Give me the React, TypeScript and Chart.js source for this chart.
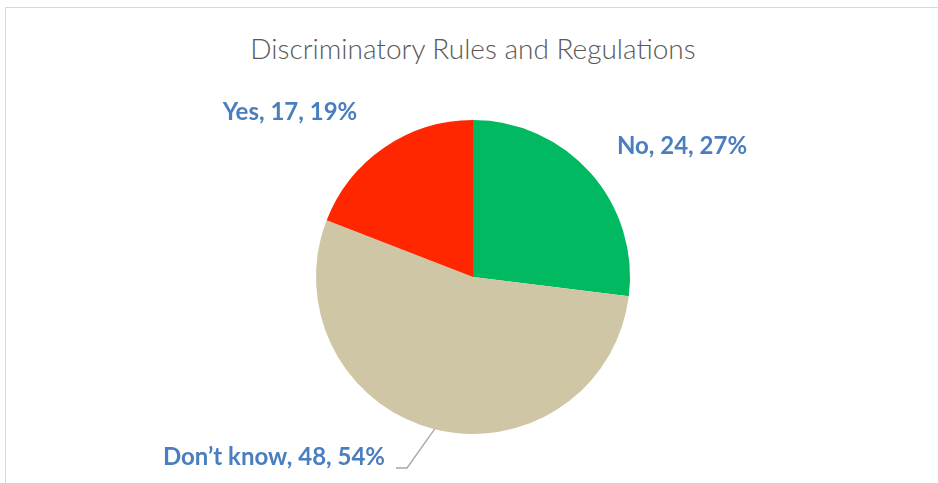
import React, { useEffect, useRef } from "react";
import { Chart, registerables } from "chart.js";

Chart.register(...registerables);

const categories = ["No", "Don\u2019t know", "Yes"];
const values = [24, 48, 17];
const percents = [27, 54, 19];
const colors = ["#00B960", "#CFC6A5", "#FF2600"];
const titleText = "Discriminatory Rules and Regulations";

// label offsets relative to pie centre (layout only)
const labelOffsets = [
  { dx: 209, dy: -131 },
  { dx: -199, dy: 180 },
  { dx: -183, dy: -165 },
];

const labelPlugin = {
  id: "pieLabels",
  afterDatasetsDraw(chart: any) {
    const ctx = chart.ctx;
    const meta = chart.getDatasetMeta(0);
    ctx.save();
    ctx.font = "bold 24px Lato, 'Open Sans', sans-serif";
    ctx.fillStyle = "#4A7EBF";
    ctx.textAlign = "center";
    ctx.textBaseline = "middle";
    const total = values.reduce((a, b) => a + b, 0);
    meta.data.forEach((arc: any, i: number) => {
      const o = labelOffsets[i];
      const x = arc.x + o.dx;
      const y = arc.y + o.dy;
      const text = `${categories[i]}, ${values[i]}, ${percents[i]}%`;
      ctx.fillText(text, x, y);
      if (i === 1) {
        const w = ctx.measureText(text).width;
        const sx = x + w / 2 + 11;
        const sy = y + 11;
        const ang = ((values[0] + values[1] * 0.5) / total) * Math.PI * 2 - Math.PI / 2;
        ctx.strokeStyle = "#A6A6A6";
        ctx.lineWidth = 1.3;
        ctx.beginPath();
        ctx.moveTo(sx, sy);
        ctx.lineTo(sx + 11, sy);
        ctx.lineTo(arc.x + Math.cos(ang) * arc.outerRadius, arc.y + Math.sin(ang) * arc.outerRadius);
        ctx.stroke();
      }
    });
    ctx.restore();
  },
};

export default function App() {
  const ref = useRef<HTMLCanvasElement>(null);
  useEffect(() => {
    if (!ref.current) return;
    const chart = new Chart(ref.current, {
      type: "pie",
      data: {
        labels: categories,
        datasets: [
          {
            data: values,
            backgroundColor: colors,
            borderWidth: 0,
          },
        ],
      },
      options: {
        animation: false,
        responsive: false,
        maintainAspectRatio: false,
        layout: { padding: { top: 120, bottom: 49, left: 8, right: 0 } },
        plugins: {
          legend: { display: false },
          tooltip: { enabled: false },
          title: { display: false },
        },
      },
      plugins: [labelPlugin],
    });
    return () => chart.destroy();
  }, []);
  return (
    <div style={{ position: "absolute", left: 0, top: 0, width: 938, height: 483, background: "#fff", overflow: "hidden" }}>
      <div style={{ position: "absolute", left: 5, top: 7, width: 1000, height: 600, border: "1.5px solid #D9D9D9", boxSizing: "border-box" }} />
      <div
        style={{
          position: "absolute",
          left: 0,
          top: 30,
          width: 946,
          textAlign: "center",
          fontFamily: "Lato, 'Open Sans', sans-serif",
          fontWeight: 300,
          fontSize: 28,
          color: "#595959",
          lineHeight: "36px",
        }}
      >
        {titleText}
      </div>
      <canvas ref={ref} width={938} height={483} style={{ position: "absolute", left: 0, top: 0 }} />
    </div>
  );
}
